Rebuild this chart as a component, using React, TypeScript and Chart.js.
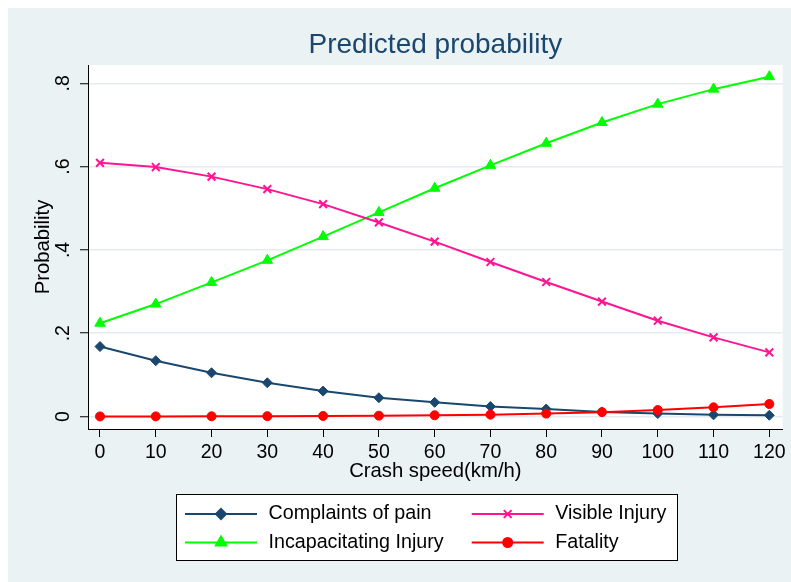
import React, { useEffect, useRef } from 'react';
import { Chart, registerables } from 'chart.js';
import { drawPoint } from 'chart.js/helpers';

Chart.register(...registerables);

// ---- data ----
const speeds = [0, 10, 20, 30, 40, 50, 60, 70, 80, 90, 100, 110, 120];
const complaintsOfPain = [0.168, 0.134, 0.105, 0.081, 0.061, 0.045, 0.034, 0.024, 0.018, 0.011, 0.007, 0.004, 0.003];
const visibleInjury = [0.609, 0.599, 0.576, 0.546, 0.51, 0.466, 0.42, 0.371, 0.323, 0.276, 0.23, 0.19, 0.154];
const incapacitatingInjury = [0.224, 0.27, 0.322, 0.375, 0.432, 0.49, 0.548, 0.603, 0.656, 0.706, 0.75, 0.786, 0.816];
const fatality = [0.0002, 0.0003, 0.0005, 0.0008, 0.0013, 0.002, 0.003, 0.0045, 0.007, 0.0105, 0.0155, 0.022, 0.03];

const seriesNames = ['Complaints of pain', 'Visible Injury', 'Incapacitating Injury', 'Fatality'];
const seriesValues = [complaintsOfPain, visibleInjury, incapacitatingInjury, fatality];
const seriesColors = ['#1a476f', '#ff1493', '#00ff00', '#ff0000'];
const seriesMarkers = ['rectRot', 'crossRot', 'triangle', 'circle'];
const seriesRadius = [5, 5.5, 6, 4.5];
const seriesMarkerBorder = [1, 2, 1, 1];
const seriesOrder = [1, 2, 3, 0];

const titleText = 'Predicted probability';
const xTitle = 'Crash speed(km/h)';
const yTitle = 'Probability';

const FONT = "'Liberation Sans', Arial, sans-serif";
const BG = '#eaf2f3';

export default function App() {
  const ref = useRef<HTMLCanvasElement>(null);

  useEffect(() => {
    if (!ref.current) return;

    const bgPlugin = {
      id: 'bgPlugin',
      beforeDraw(chart: any) {
        const { ctx, chartArea: a, width, height } = chart;
        ctx.save();
        ctx.fillStyle = BG;
        ctx.fillRect(0, 0, width, height);
        ctx.fillStyle = '#ffffff';
        ctx.fillRect(a.left, a.top, a.right - a.left, a.bottom - a.top);
        ctx.restore();
      },
    };

    const legendPlugin = {
      id: 'boxLegend',
      afterDraw(chart: any) {
        const { ctx } = chart;
        const box = { left: 168.5, top: 486.5, width: 501, height: 66 };
        const rowY = [506, 534.5];
        const colX = [177, 463.7];
        const lineLen = 72;
        const textGap = 11.5;
        ctx.save();
        ctx.fillStyle = '#ffffff';
        ctx.fillRect(box.left, box.top, box.width, box.height);
        ctx.strokeStyle = '#000000';
        ctx.lineWidth = 1;
        ctx.strokeRect(box.left, box.top, box.width, box.height);
        chart.data.datasets.forEach((ds: any, i: number) => {
          const row = Math.floor(i / 2);
          const col = i % 2;
          const x0 = colX[col];
          const y = rowY[row];
          ctx.strokeStyle = ds.borderColor;
          ctx.lineWidth = 2;
          ctx.beginPath();
          ctx.moveTo(x0, y);
          ctx.lineTo(x0 + lineLen, y);
          ctx.stroke();
          ctx.fillStyle = ds.pointBackgroundColor;
          ctx.strokeStyle = ds.pointBorderColor;
          drawPoint(ctx, {
            pointStyle: ds.pointStyle,
            radius: ds.pointRadius,
            rotation: 0,
            borderWidth: ds.pointBorderWidth,
          } as any, x0 + lineLen / 2, y);
          ctx.fillStyle = '#000000';
          ctx.font = `19.7px ${FONT}`;
          ctx.textAlign = 'left';
          ctx.textBaseline = 'middle';
          ctx.fillText(ds.label, x0 + lineLen + textGap, y);
        });
        ctx.restore();
      },
    };

    const datasets = seriesNames.map((name, i) => ({
      label: name,
      data: speeds.map((s, j) => ({ x: s, y: seriesValues[i][j] })),
      borderColor: seriesColors[i],
      backgroundColor: seriesColors[i],
      pointBackgroundColor: seriesColors[i],
      pointBorderColor: seriesColors[i],
      pointStyle: seriesMarkers[i],
      pointRadius: seriesRadius[i],
      pointBorderWidth: seriesMarkerBorder[i],
      borderWidth: 2,
      tension: 0,
      fill: false,
      order: seriesOrder[i],
      clip: false as any,
    }));

    const tickFont = { family: FONT, size: 19.5 };
    const axisTitleFont = { family: FONT, size: 20.3 };

    const chart = new Chart(ref.current, {
      type: 'line',
      data: { datasets: datasets as any },
      options: {
        responsive: false,
        animation: false,
        layout: { padding: { left: 18.8, right: 8.3, top: 0, bottom: 94.8 } },
        plugins: {
          legend: { display: false },
          tooltip: { enabled: false },
          title: {
            display: true,
            text: titleText,
            color: '#1a476f',
            font: { family: FONT, size: 28, weight: 'normal' as any },
            padding: { top: 20.6, bottom: 2.8 },
            fullSize: false,
          },
        },
        scales: {
          x: {
            type: 'linear',
            min: -2.15,
            max: 122.4,
            ticks: {
              stepSize: 10,
              includeBounds: false,
              color: '#000000',
              font: tickFont,
              padding: 4.3,
              maxRotation: 0,
              autoSkip: false,
            },
            grid: { drawOnChartArea: false, drawTicks: true, tickLength: 8, tickColor: '#000000', tickWidth: 1 },
            border: { display: true, color: '#000000', width: 1 },
            title: { display: true, text: xTitle, color: '#000000', font: axisTitleFont, padding: { top: 4, bottom: 4 } },
            afterFit(s: any) { s.height = 58.2; },
          },
          y: {
            type: 'linear',
            min: -0.03,
            max: 0.844,
            ticks: {
              stepSize: 0.2,
              includeBounds: false,
              color: '#000000',
              font: tickFont,
              padding: 7.9,
              minRotation: 90,
              maxRotation: 90,
              crossAlign: 'center',
              callback: (v: any) => {
                const n = Number(v);
                if (Math.abs(n) < 1e-9) return '0';
                return n.toFixed(1).replace(/^0\./, '.');
              },
            },
            grid: { color: '#e4ecee', lineWidth: 1.5, tickLength: 8, tickColor: '#000000', tickWidth: 1 },
            border: { display: true, color: '#000000', width: 1 },
            title: { display: true, text: yTitle, color: '#000000', font: axisTitleFont, padding: { top: 4, bottom: 4 } },
            afterFit(s: any) { s.width = 61.2; },
          },
        },
      },
      plugins: [bgPlugin, legendPlugin],
    } as any);

    return () => chart.destroy();
  }, []);

  return (
    <div style={{ position: 'fixed', left: 8, top: 8, width: 783, height: 574 }}>
      <canvas ref={ref} width={783} height={574} style={{ display: 'block' }} />
    </div>
  );
}
